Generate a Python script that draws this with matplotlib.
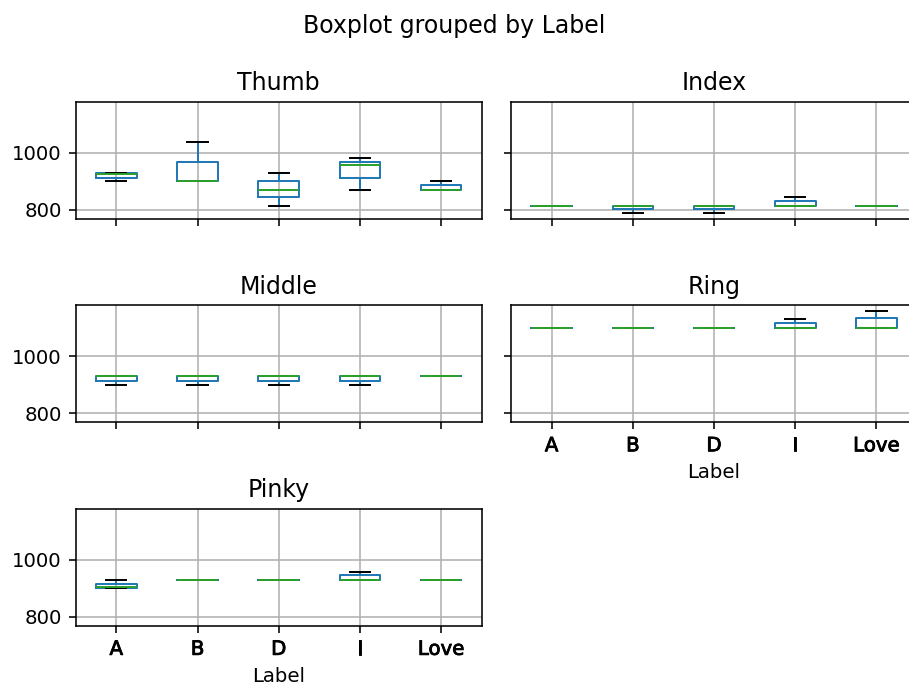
import matplotlib
matplotlib.use("Agg")
import matplotlib.pyplot as plt
import matplotlib.patheffects as pe

labels = ["A", "B", "D", "I", "Love"]
fingers = ["Thumb", "Index", "Middle", "Ring", "Pinky"]

thumb_q1 = [911, 902, 845, 911, 870]
thumb_med = [926, 902, 871, 959, 871]
thumb_q3 = [929, 969, 902, 969, 886]
thumb_lo = [902, 902, 814, 871, 870]
thumb_hi = [929, 1040, 928, 984, 902]

index_q1 = [815, 802, 802, 815, 815]
index_med = [815, 815, 815, 815, 815]
index_q3 = [815, 815, 815, 831, 815]
index_lo = [815, 788, 788, 815, 815]
index_hi = [815, 815, 815, 846, 815]

middle_q1 = [914, 914, 914, 914, 932]
middle_med = [932, 932, 932, 932, 932]
middle_q3 = [933, 933, 933, 933, 932]
middle_lo = [901, 901, 901, 901, 932]
middle_hi = [933, 933, 933, 933, 932]

ring_q1 = [1101, 1101, 1101, 1100, 1100]
ring_med = [1101, 1101, 1101, 1100, 1100]
ring_q3 = [1101, 1101, 1101, 1117, 1134]
ring_lo = [1101, 1101, 1101, 1100, 1100]
ring_hi = [1101, 1101, 1101, 1132, 1160]

pinky_q1 = [902, 930, 930, 928, 930]
pinky_med = [904, 930, 930, 928, 930]
pinky_q3 = [917, 930, 930, 946, 930]
pinky_lo = [902, 930, 930, 928, 930]
pinky_hi = [930, 930, 930, 957, 930]

data = {
    "Thumb": (thumb_q1, thumb_med, thumb_q3, thumb_lo, thumb_hi),
    "Index": (index_q1, index_med, index_q3, index_lo, index_hi),
    "Middle": (middle_q1, middle_med, middle_q3, middle_lo, middle_hi),
    "Ring": (ring_q1, ring_med, ring_q3, ring_lo, ring_hi),
    "Pinky": (pinky_q1, pinky_med, pinky_q3, pinky_lo, pinky_hi),
}

W, H = 909, 687
DPI = 142
fig = plt.figure(figsize=(W / DPI, H / DPI), dpi=DPI)

col_left = [75.7, 511.0]
row_top = [102.0, 305.5, 509.0]
aw, ah = 406.0, 117.0

layout = {"Thumb": (0, 0), "Index": (0, 1), "Middle": (1, 0), "Ring": (1, 1), "Pinky": (2, 0)}

axes = {}
first = None
for name in fingers:
    r, c = layout[name]
    rect = [col_left[c] / W, 1 - (row_top[r] + ah) / H, aw / W, ah / H]
    if first is None:
        ax = fig.add_axes(rect)
        first = ax
    else:
        ax = fig.add_axes(rect, sharey=first)
    axes[name] = ax

bold_fx = [pe.withStroke(linewidth=0.45, foreground="black")]

for name in fingers:
    ax = axes[name]
    q1, med, q3, lo, hi = data[name]
    stats = []
    for i, lab in enumerate(labels):
        stats.append(dict(label=lab, q1=q1[i], med=med[i], q3=q3[i],
                          whislo=lo[i], whishi=hi[i], fliers=[]))
    ax.bxp(stats, positions=range(1, 6), widths=0.5, showfliers=False,
           boxprops=dict(color="#1f77b4"),
           whiskerprops=dict(color="#1f77b4"),
           capprops=dict(color="black"),
           medianprops=dict(color="#2ca02c"))
    ax.set_title(name, fontsize=12)
    ax.grid(True)
    ax.set_xlim(0.5, 5.5)
    r, c = layout[name]
    ax.set_xticks(range(1, 6))
    if name in ("Ring", "Pinky"):
        ax.set_xticklabels(labels, fontsize=10)
        for t in ax.get_xticklabels():
            t.set_path_effects(bold_fx)
        ax.set_xlabel("Label", fontsize=10)
    else:
        ax.set_xticklabels([])
    if c == 1:
        ax.tick_params(axis="y", labelleft=False)

first.set_yticks([800, 1000])
first.set_ylim(768.4, 1178.6)

fig.suptitle("Boxplot grouped by Label", fontsize=12)
fig.savefig("out.png", dpi=DPI)
